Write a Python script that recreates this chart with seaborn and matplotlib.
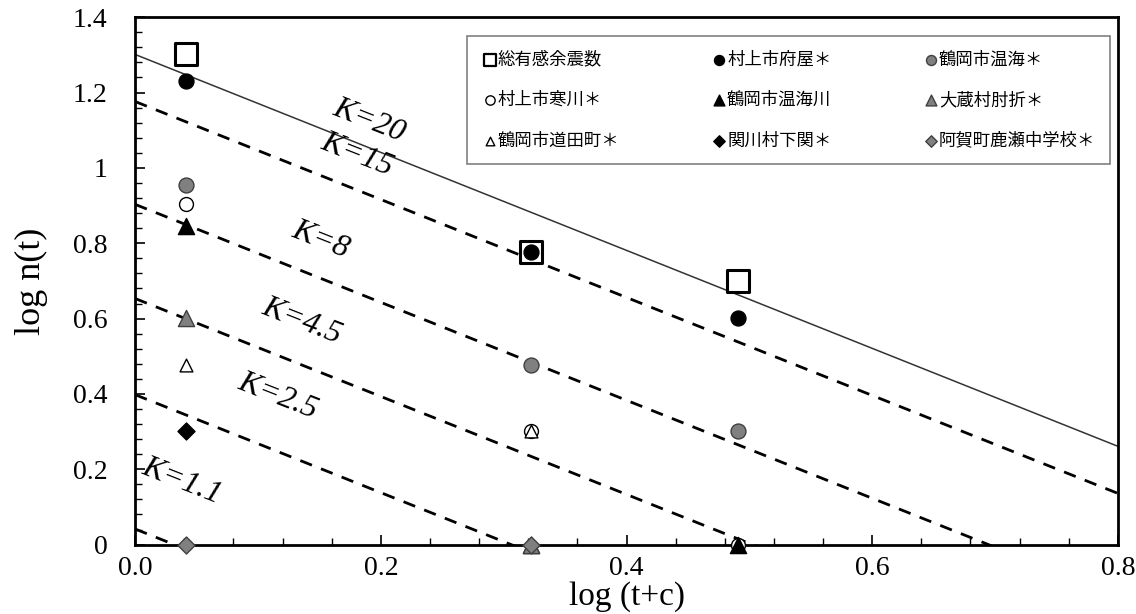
import numpy as np
import pandas as pd
import matplotlib
matplotlib.use("Agg")
import matplotlib.pyplot as plt
import seaborn as sns

# ---- data ----
x_vals = [0.041, 0.322, 0.491]  # log(t+c)
series_names = ["総有感余震数", "村上市府屋＊", "鶴岡市温海＊",
                "村上市寒川＊", "鶴岡市温海川", "大蔵村肘折＊",
                "鶴岡市道田町＊", "関川村下関＊", "阿賀町鹿瀬中学校＊"]
y_total = [1.301, 0.778, 0.699]
y_fuya = [1.230, 0.778, 0.602]
y_atsumi = [0.954, 0.477, 0.301]
y_sabukawa = [0.903, 0.301, 0.0]
y_atsumigawa = [0.845, 0.0, 0.0]
y_hijiori = [0.602, 0.0, np.nan]
y_michida = [0.477, 0.301, np.nan]
y_shimoseki = [0.301, np.nan, np.nan]
y_kanose = [0.0, 0.0, np.nan]

K_values = [20, 15, 8, 4.5, 2.5, 1.1]
p_value = 1.3
K_labels = ["K=20", "K=15", "K=8", "K=4.5", "K=2.5", "K=1.1"]
K_label_pos = [(0.190, 1.125), (0.181, 1.035), (0.151, 0.809), (0.136, 0.592), (0.116, 0.393), (0.038, 0.167)]

sns.set_style("ticks")
plt.rcParams['font.family'] = ['Liberation Serif', 'DejaVu Serif']
for k in ["text.color", "axes.labelcolor", "xtick.color", "ytick.color", "axes.edgecolor"]:
    plt.rcParams[k] = "black"

fig = plt.figure(figsize=(11.36, 6.14), dpi=100)
ax = fig.add_axes([0.119, 0.113, 0.865, 0.859])

# fitted Omori lines
x_line = [0.0, 0.8]
for K in K_values:
    df_l = pd.DataFrame({"x": x_line, "y": [np.log10(K) - p_value * xv for xv in x_line]})
    if K == 20:
        sns.lineplot(data=df_l, x="x", y="y", ax=ax, color="#333333", lw=1.1)
    else:
        sns.lineplot(data=df_l, x="x", y="y", ax=ax, color="black", lw=2.0,
                     linestyle=(0, (4.5, 3.5)))

ys = [y_total, y_fuya, y_atsumi, y_sabukawa, y_atsumigawa, y_hijiori,
      y_michida, y_shimoseki, y_kanose]
styles = [
    dict(marker="s", s=270, facecolor="white", edgecolor="black", linewidth=2.2),
    dict(marker="o", s=115, facecolor="black", edgecolor="black", linewidth=1),
    dict(marker="o", s=115, facecolor="#808080", edgecolor="#404040", linewidth=1),
    dict(marker="o", s=100, facecolor="white", edgecolor="black", linewidth=1),
    dict(marker="^", s=135, facecolor="black", edgecolor="black", linewidth=1),
    dict(marker="^", s=135, facecolor="#808080", edgecolor="#404040", linewidth=1),
    dict(marker="^", s=85, facecolor="white", edgecolor="black", linewidth=1),
    dict(marker="D", s=75, facecolor="black", edgecolor="black", linewidth=1),
    dict(marker="D", s=75, facecolor="#808080", edgecolor="#404040", linewidth=1),
]
handles = []
for name, y, st in zip(series_names, ys, styles):
    df = pd.DataFrame({"x": x_vals, "y": y}).dropna()
    sns.scatterplot(data=df, x="x", y="y", ax=ax, marker=st["marker"], s=st["s"],
                    color=st["facecolor"], edgecolor=st["edgecolor"],
                    linewidth=st["linewidth"], clip_on=False, zorder=5, legend=False)
    h = ax.scatter([], [], marker=st["marker"], s=st["s"] * 0.3 if st["marker"] == "s" else st["s"] * 0.45,
                   facecolor=st["facecolor"], edgecolor=st["edgecolor"],
                   linewidth=min(st["linewidth"], 1.6), label=name)
    handles.append(h)

# K labels
for lab, (lx, ly) in zip(K_labels, K_label_pos):
    ax.text(lx, ly, lab, fontsize=23, fontstyle="italic", rotation=-21.5,
            ha="center", va="center", color="black", rotation_mode="anchor")

ax.set_xlim(0, 0.8)
ax.set_ylim(0, 1.4)
ax.set_xticks([0.0, 0.2, 0.4, 0.6, 0.8])
ax.set_xticklabels(["0.0", "0.2", "0.4", "0.6", "0.8"])
ax.set_yticks([0, 0.2, 0.4, 0.6, 0.8, 1.0, 1.2, 1.4])
ax.set_yticklabels(["0", "0.2", "0.4", "0.6", "0.8", "1", "1.2", "1.4"])
ax.set_xticks(np.arange(0, 0.8001, 0.04), minor=True)
ax.set_yticks(np.arange(0, 1.4001, 0.04), minor=True)
ax.tick_params(axis="both", which="major", direction="in", length=7, width=1.2, labelsize=20)
ax.tick_params(axis="y", which="major", pad=20)
ax.tick_params(axis="x", which="major", pad=8)
ax.tick_params(axis="both", which="minor", direction="in", length=5, width=1.0)
for sp in ax.spines.values():
    sp.set_linewidth(2.0)
    sp.set_color("black")
    sp.set_visible(True)

ax.set_xlabel("log (t+c)", fontsize=24, labelpad=0)
ax.set_ylabel("log n(t)", fontsize=26, labelpad=18)

order = [0, 3, 6, 1, 4, 7, 2, 5, 8]
leg = ax.legend([handles[i] for i in order], [series_names[i] for i in order],
                ncol=3, loc="upper right", bbox_to_anchor=(0.9975, 0.975),
                prop={"family": ["Noto Sans CJK JP"], "size": 12.5},
                frameon=True, fancybox=False, edgecolor="#606060",
                handletextpad=0.0, handlelength=0.9, columnspacing=5.3,
                labelspacing=1.3, borderpad=0.85, borderaxespad=0.3)
leg.get_frame().set_linewidth(1.2)
leg.set_zorder(10)

fig.savefig("out.png", dpi=100)
